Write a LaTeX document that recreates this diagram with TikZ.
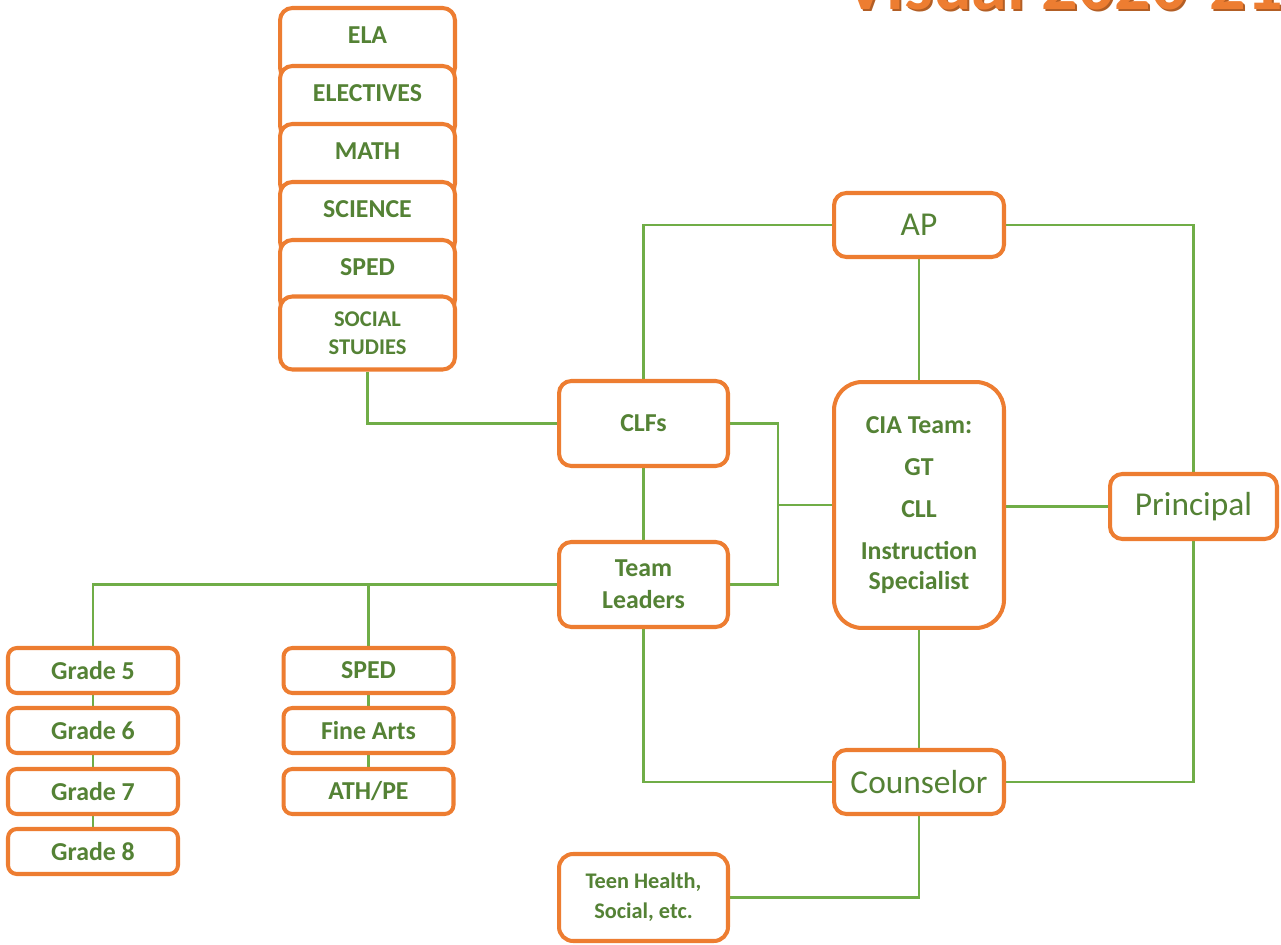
\documentclass[tikz,border=0pt]{standalone}
\usepackage{fontspec}
\setmainfont{Carlito}
\usepackage{xcolor}
\usetikzlibrary{backgrounds}
\definecolor{orgorange}{HTML}{ED7D31}
\definecolor{orggreen}{HTML}{548235}
\definecolor{linkgreen}{HTML}{70AD47}
\tikzstyle{box}=[draw=orgorange, line width=2.3pt, fill=white, rounded corners=7pt, inner sep=0pt, align=center, text=orggreen, font=\bfseries\fontsize{14.7}{17}\selectfont]
\tikzstyle{tab}=[box, minimum width=3.5cm, text height=0.7cm, text depth=0.74cm, anchor=north]
\tikzstyle{big}=[box, minimum width=3.4cm, minimum height=1.28cm, font=\fontsize{19}{22}\selectfont]
\tikzstyle{grade}=[box, rounded corners=5pt, minimum width=3.4cm, minimum height=0.9cm]
\tikzstyle{link}=[linkgreen, line width=1.4pt]

\begin{document}
\begin{tikzpicture}[x=0.02cm, y=-0.02cm]
  \useasboundingbox (0,0) rectangle (1281,945);
  \node[anchor=base west, text=orgorange!75!black, font=\bfseries\fontsize{41}{41}\selectfont] (titleshade) at (840,12) {Visual 2020-21};
  \node[anchor=base west, text=orgorange, font=\bfseries\fontsize{41}{41}\selectfont] (title) at (838,10) {Visual 2020-21};

  \node[tab] (ela) at (367.5,6) {ELA};
  \node[tab] (elec) at (367.5,64) {ELECTIVES};
  \node[tab] (math) at (367.5,122) {MATH};
  \node[tab] (sci) at (367.5,180) {SCIENCE};
  \node[tab] (sped) at (367.5,238) {SPED};
  \node[box, minimum width=3.5cm, minimum height=1.46cm, font=\bfseries\fontsize{12.8}{16}\selectfont] (soc) at (367.5,333) {SOCIAL\\STUDIES};

  \node[box, minimum width=3.38cm, minimum height=1.7cm] (clf) at (643.5,423.5) {CLFs};
  \node[box, minimum width=3.38cm, minimum height=1.7cm, font=\bfseries\fontsize{14.7}{18}\selectfont] (tl) at (643.5,584.5) {Team\\Leaders};
  \node[box, rounded corners=16pt, minimum width=3.4cm, minimum height=4.92cm] (cia) at (919,505) {CIA Team:\\[7pt]GT\\[7pt]CLL\\[7pt]Instruction\\Specialist};
  \node[big] (ap) at (919,225) {AP};
  \node[big, minimum width=3.34cm, minimum height=1.3cm] (prin) at (1193.5,506.5) {Principal};
  \node[big] (cou) at (919,782) {Counselor};
  \node[box, rounded corners=8pt, minimum width=3.38cm, minimum height=1.74cm, font=\bfseries\fontsize{12.7}{17}\selectfont] (teen) at (643.5,897.5) {Teen Health,\\Social, etc.};

  \node[grade] (g5) at (93,670.5) {Grade 5};
  \node[grade] (g6) at (93,730.5) {Grade 6};
  \node[grade] (g7) at (93,791.5) {Grade 7};
  \node[grade] (g8) at (93,851.5) {Grade 8};
  \node[grade] (sp) at (368.5,670.5) {SPED};
  \node[grade] (fa) at (368.5,730.5) {Fine Arts};
  \node[grade] (ath) at (368.5,791.5) {ATH/PE};

  \begin{scope}[on background layer]
    \draw[link] (soc.south) |- (clf.west);
    \draw[link] (clf.north) |- (ap.west);
    \draw[link] (ap.east) -| (prin.north);
    \draw[link] (ap) -- (cia);
    \draw[link] (clf) -- (tl);
    \coordinate (jn) at (778,505);
    \draw[link] (clf.east) -| (jn) |- (tl.east);
    \draw[link] (jn) -- (cia.west);
    \draw[link] (cia.east |- prin.west) -- (prin.west);
    \draw[link] (tl.west) -| (g5.north);
    \draw[link] (tl.west -| sp.north) -- (sp.north);
    \draw[link] (g5.center) -- (g8.center);
    \draw[link] (sp.center) -- (ath.center);
    \draw[link] (tl.south) |- (cou.west);
    \draw[link] (cia) -- (cou);
    \draw[link] (cou.east) -| (prin.south);
    \draw[link] (cou.south) |- (teen.east);
  \end{scope}
\end{tikzpicture}
\end{document}
